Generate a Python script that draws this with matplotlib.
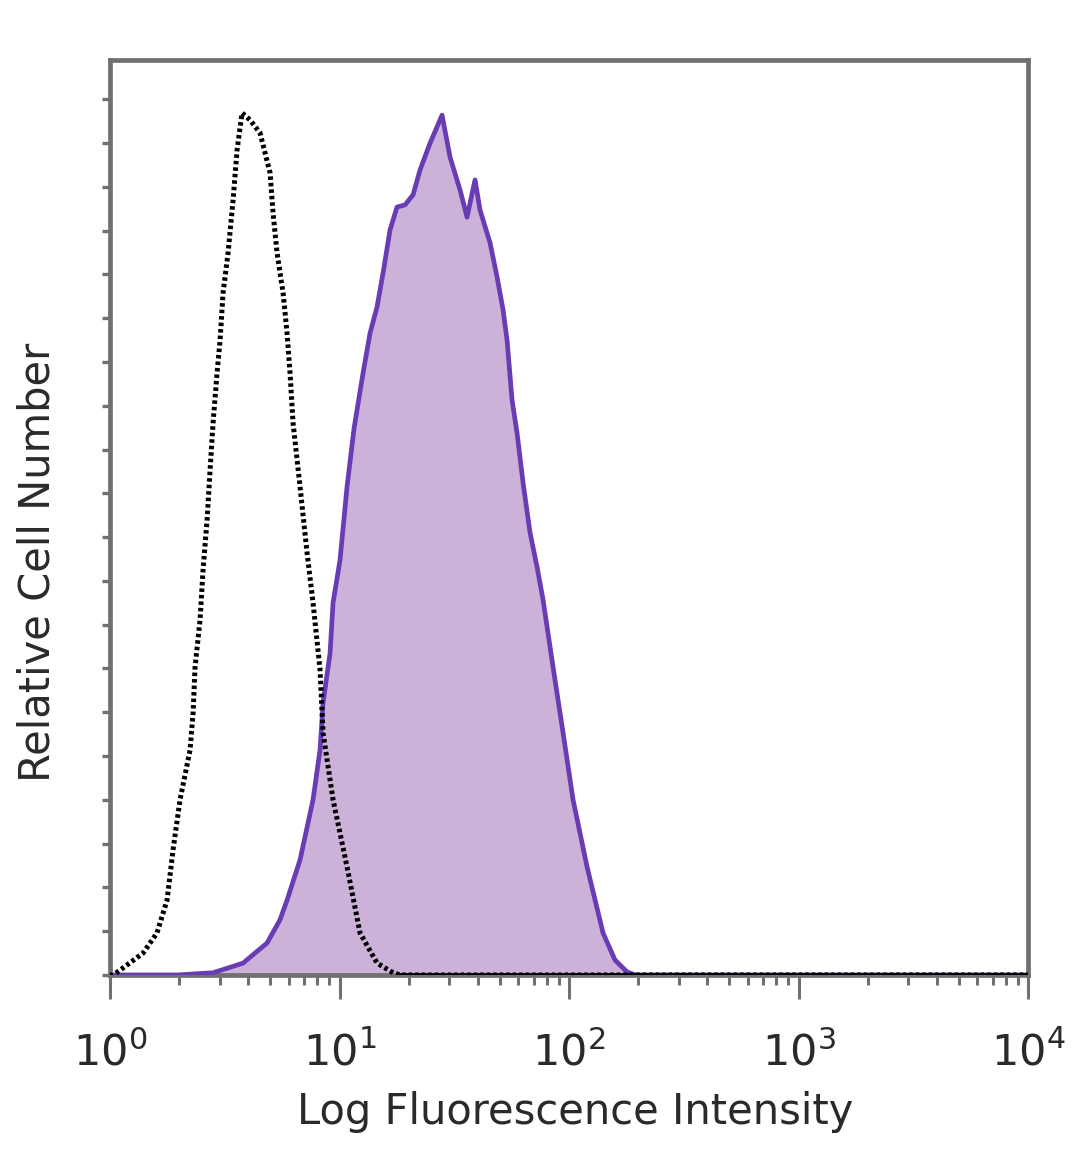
import matplotlib.pyplot as plt
from matplotlib.ticker import LogLocator, FixedLocator, NullFormatter

# isotype control (black dotted)
iso_x = [1.0, 1.031, 1.106, 1.393, 1.602, 1.772, 1.882, 2.018, 2.232, 2.300,
         2.346, 2.467, 2.542, 2.647, 2.728, 2.811, 2.926, 3.016, 3.108, 3.267,
         3.436, 3.576, 3.760, 4.074, 4.505, 4.981, 5.132, 5.343, 5.674, 5.906,
         6.085, 6.271, 6.728, 7.219, 7.664, 8.222, 8.474, 9.369, 10.78, 12.28,
         14.57, 17.11, 18.35, 10000]
iso_y = [0, 0, 1.1, 5.0, 9.6, 17.1, 28.6, 40.0, 51.4, 59.8,
         70.3, 81.1, 92.5, 103.9, 115.3, 126.1, 137.5, 145.0, 155.8, 164.9,
         177.0, 188.4, 196.9, 195.3, 192.3, 183.2, 174.0, 164.9, 155.8, 146.6,
         137.5, 126.1, 111.5, 96.4, 85.0, 69.7, 55.3, 40.0, 24.7, 9.6,
         2.7, 0.5, 0, 0]

# stained sample (purple filled)
stain_x = [1.0, 1.958, 2.811, 3.798, 4.833, 5.504, 5.906, 6.728, 7.664, 8.222,
           8.474, 9.091, 9.369, 10.05, 10.78, 11.57, 12.66, 13.58, 14.57, 15.47,
           16.60, 17.80, 19.29, 20.91, 22.43, 24.80, 27.97, 30.30, 33.50, 35.94,
           38.94, 40.95, 45.28, 48.58, 51.58, 53.69, 56.45, 59.35, 63.04, 67.62,
           72.54, 77.03, 85.18, 94.17, 104.1, 119.8, 140.6, 158.6, 178.9, 193.9,
           10000]
stain_y = [0, 0, 0.5, 2.7, 7.3, 12.6, 17.1, 26.3, 40.0, 51.4,
           62.1, 73.5, 85.0, 94.8, 111.5, 124.9, 137.5, 146.6, 152.6, 160.3,
           170.2, 175.4, 175.9, 178.2, 183.9, 190.0, 196.4, 186.8, 179.3, 173.1,
           181.6, 174.7, 167.2, 159.4, 151.9, 145.0, 131.3, 123.8, 112.4, 101.0,
           93.2, 85.7, 70.3, 55.3, 40.0, 24.7, 9.6, 3.4, 0.7, 0,
           0]

decades = [1, 10, 100, 1000, 10000]
decade_labels = [r'$\mathregular{10^{0}}$', r'$\mathregular{10^{1}}$',
                 r'$\mathregular{10^{2}}$', r'$\mathregular{10^{3}}$',
                 r'$\mathregular{10^{4}}$']

plt.rcParams['font.family'] = ['DejaVu Sans']
plt.rcParams['mathtext.fontset'] = 'dejavusans'

fig = plt.figure(figsize=(10.8, 11.69), dpi=100)
ax = fig.add_axes([0.1019, 0.166, 0.85, 0.7827])

purple_line = '#6a3cb4'
purple_fill = '#ccb2d9'
frame = '#707070'
text_col = '#2a2a2a'

ax.fill_between(stain_x, stain_y, 0, color=purple_fill, linewidth=0, zorder=1)
ax.plot(stain_x, stain_y, color=purple_line, lw=3.4, zorder=3)
ax.plot(iso_x, iso_y, color='black', lw=3.6, linestyle=(0, (0.7, 0.6)), zorder=4)
# solid baseline of the isotype trace beyond its right tail
ax.plot(iso_x[-2:], iso_y[-2:], color='black', lw=3.4, zorder=4)

ax.set_xscale('log')
ax.set_xlim(1, 10000)
ax.set_ylim(0, 209)

ax.set_xticks(decades)
ax.set_xticklabels(decade_labels)
ax.xaxis.set_minor_locator(LogLocator(base=10, subs=range(2, 10)))
ax.xaxis.set_minor_formatter(NullFormatter())
ax.yaxis.set_major_locator(FixedLocator(range(0, 201, 10)))
ax.yaxis.set_major_formatter(NullFormatter())

ax.tick_params(axis='x', which='major', direction='out', length=17, width=2.2,
               color=frame, labelsize=31, labelcolor=text_col, pad=24)
ax.tick_params(axis='x', which='minor', direction='out', length=7, width=2.2,
               color=frame)
ax.tick_params(axis='y', which='major', direction='out', length=6, width=2.4,
               color=frame)

for side in ['top', 'right', 'left', 'bottom']:
    ax.spines[side].set_color(frame)
    ax.spines[side].set_linewidth(3.4)

ax.set_xlabel('Log Fluorescence Intensity', fontsize=30, color=text_col)
ax.set_ylabel('Relative Cell Number', fontsize=30, color=text_col)
ax.xaxis.set_label_coords(0.507, -0.127)
ax.yaxis.set_label_coords(-0.056, 0.451)

fig.savefig('out.png', dpi=100)
